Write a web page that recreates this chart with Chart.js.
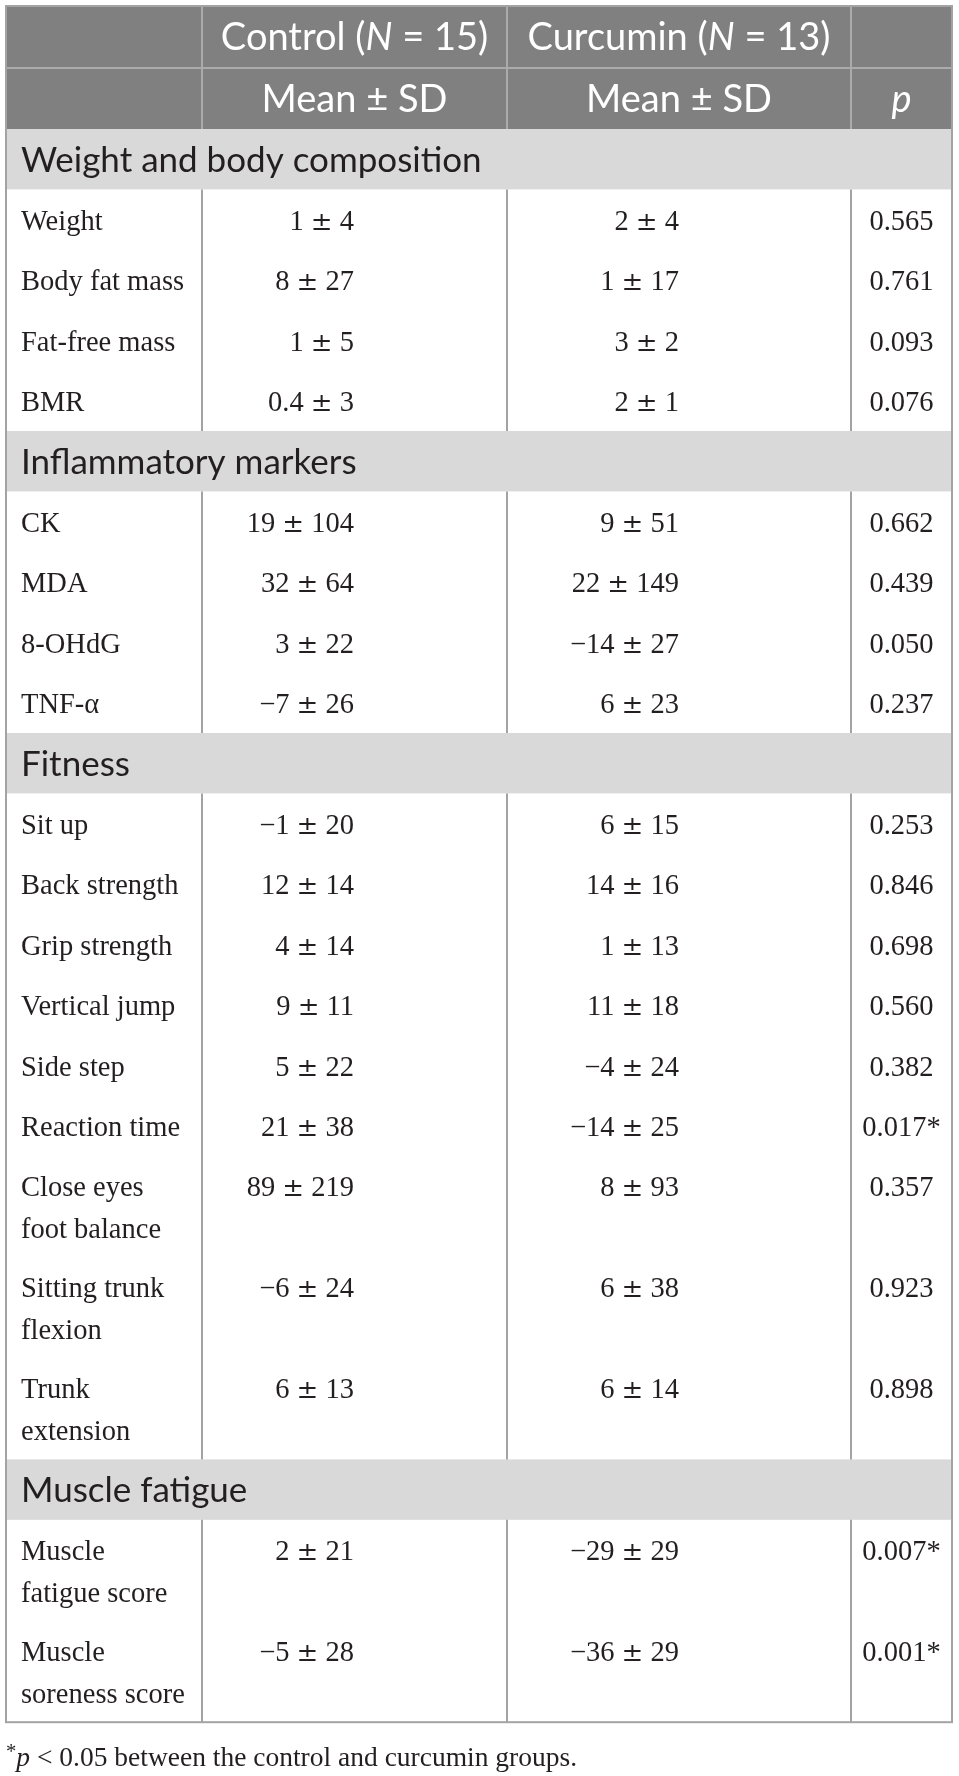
<!DOCTYPE html>
<html>
<head>
<meta charset="utf-8">
<script src="https://cdn.jsdelivr.net/npm/chart.js@4.4.1/dist/chart.umd.min.js"></script>
<style>
html,body{margin:0;padding:0;background:#fff;}
#wrap{width:959px;height:1776px;position:relative;}
</style>
</head>
<body>
<div id="wrap"><canvas id="c" width="959" height="1776"></canvas></div>
<script>
// ---- data ----
const groupHeaders = ['Control', 'Curcumin'];
const groupN = [15, 13];
const statHeader = 'Mean \u00B1 SD';
const pHeader = 'p';
const sections = ['Weight and body composition', 'Inflammatory markers', 'Fitness', 'Muscle fatigue'];
const sectionSizes = [4, 4, 9, 2];
const rowLabels = [
  ['Weight'], ['Body fat mass'], ['Fat-free mass'], ['BMR'],
  ['CK'], ['MDA'], ['8-OHdG'], ['TNF-\u03B1'],
  ['Sit up'], ['Back strength'], ['Grip strength'], ['Vertical jump'], ['Side step'], ['Reaction time'],
  ['Close eyes', 'foot balance'], ['Sitting trunk', 'flexion'], ['Trunk', 'extension'],
  ['Muscle', 'fatigue score'], ['Muscle', 'soreness score']
];
const controlMean = [1, 8, 1, 0.4, 19, 32, 3, -7, -1, 12, 4, 9, 5, 21, 89, -6, 6, 2, -5];
const controlSD   = [4, 27, 5, 3, 104, 64, 22, 26, 20, 14, 14, 11, 22, 38, 219, 24, 13, 21, 28];
const curcuminMean = [2, 1, 3, 2, 9, 22, -14, 6, 6, 14, 1, 11, -4, -14, 8, 6, 6, -29, -36];
const curcuminSD   = [4, 17, 2, 1, 51, 149, 27, 23, 15, 16, 13, 18, 24, 25, 93, 38, 14, 29, 29];
const pValues = ['0.565', '0.761', '0.093', '0.076', '0.662', '0.439', '0.050', '0.237', '0.253', '0.846',
                 '0.698', '0.560', '0.382', '0.017*', '0.357', '0.923', '0.898', '0.007*', '0.001*'];
const footnote = ' < 0.05 between the control and curcumin groups.';

// ---- layout (style, not data) ----
const L = {
  colEdges: [6, 202, 507, 851, 952],
  top: 6,
  headerH: [62, 61],
  singleH: 60.4,
  doubleH: 101.2,
  lineGap: 42,
  valueRight: [354, 679],
  labelX: 21,
  sans: '"Lato", "Open Sans", sans-serif',
  serif: '"Liberation Serif", "DejaVu Serif", serif',
  pmFont: '26px "DejaVu Serif", serif',
  headSize: 38,
  sectSize: 35,
  bodySize: 28.5,
  footSize: 27.5,
  headBg: '#808080',
  headLine: '#ababab',
  sectBg: '#d9d9d9',
  line: '#a3a3a3',
  text: '#231f20'
};

function fmt(v) {
  const s = String(Math.abs(v));
  return (v < 0 ? '\u2212' : '') + s;
}

function buildRows() {
  const rows = [];
  let y = L.top + L.headerH[0] + L.headerH[1];
  let k = 0;
  sections.forEach((s, si) => {
    rows.push({type: 'section', text: s, y0: y, y1: y + L.singleH});
    y += L.singleH;
    for (let j = 0; j < sectionSizes[si]; j++, k++) {
      const h = rowLabels[k].length > 1 ? L.doubleH : L.singleH;
      rows.push({type: 'body', idx: k, y0: y, y1: y + h});
      y += h;
    }
  });
  return {rows, bottom: y};
}

function drawRuns(ctx, runs, x, y, align) {
  let w = 0;
  runs.forEach(r => { ctx.font = r.font; r.w = ctx.measureText(r.t).width; w += r.w; });
  let cx = align === 'center' ? x - w / 2 : (align === 'right' ? x - w : x);
  ctx.textAlign = 'left';
  runs.forEach(r => { ctx.font = r.font; ctx.fillText(r.t, cx, y + (r.dy || 0)); cx += r.w; });
}

const tablePlugin = {
  id: 'tablePlugin',
  afterDraw(chart) {
    const ctx = chart.ctx;
    const sx = chart.scales.x, sy = chart.scales.y;
    const X = v => sx.getPixelForValue(v);
    const Y = v => sy.getPixelForValue(v);
    const ce = L.colEdges;
    const {rows, bottom} = buildRows();
    ctx.save();
    ctx.textBaseline = 'alphabetic';

    const hTop = L.top, hMid = L.top + L.headerH[0], hBot = hMid + L.headerH[1];
    ctx.fillStyle = L.headBg;
    ctx.fillRect(X(ce[0]), Y(hTop), X(ce[4]) - X(ce[0]), Y(hBot) - Y(hTop));

    rows.filter(r => r.type === 'section').forEach(r => {
      ctx.fillStyle = L.sectBg;
      ctx.fillRect(X(ce[0]), Y(r.y0), X(ce[4]) - X(ce[0]), Y(r.y1) - Y(r.y0));
    });

    ctx.strokeStyle = L.headLine;
    ctx.lineWidth = 2;
    ctx.beginPath();
    ctx.moveTo(X(ce[0]), Y(hMid)); ctx.lineTo(X(ce[4]), Y(hMid));
    for (let i = 1; i < 4; i++) { ctx.moveTo(X(ce[i]), Y(hTop)); ctx.lineTo(X(ce[i]), Y(hBot)); }
    ctx.stroke();

    ctx.strokeStyle = L.line;
    ctx.lineWidth = 2;
    ctx.beginPath();
    rows.filter(r => r.type === 'body').forEach(r => {
      for (let i = 1; i < 4; i++) { ctx.moveTo(X(ce[i]), Y(r.y0)); ctx.lineTo(X(ce[i]), Y(r.y1)); }
    });
    ctx.stroke();

    ctx.strokeStyle = L.line;
    ctx.lineWidth = 2;
    ctx.strokeRect(X(ce[0]), Y(hTop), X(ce[4]) - X(ce[0]), Y(bottom) - Y(hTop));

    // header text
    ctx.fillStyle = '#ffffff';
    const hf = L.headSize + 'px ' + L.sans;
    const hfi = 'italic ' + L.headSize + 'px ' + L.sans;
    const b1 = Y(hTop + L.headerH[0] / 2) + L.headSize * 0.355;
    const b2 = Y(hMid + L.headerH[1] / 2) + L.headSize * 0.355;
    groupHeaders.forEach((g, i) => {
      const cx = X((ce[i + 1] + ce[i + 2]) / 2);
      drawRuns(ctx, [{t: g + ' (', font: hf}, {t: 'N', font: hfi}, {t: ' = ' + groupN[i] + ')', font: hf}], cx, b1, 'center');
      drawRuns(ctx, [{t: statHeader, font: hf}], cx, b2, 'center');
    });
    drawRuns(ctx, [{t: pHeader, font: hfi}], X((ce[3] + ce[4]) / 2), b2, 'center');

    const bf = L.bodySize + 'px ' + L.serif;
    const valueRuns = (m, sd) => [
      {t: fmt(m) + ' ', font: bf}, {t: '\u00B1', font: L.pmFont}, {t: ' ' + sd, font: bf}
    ];
    rows.forEach(r => {
      if (r.type === 'section') {
        ctx.fillStyle = L.text;
        ctx.font = L.sectSize + 'px ' + L.sans;
        ctx.textAlign = 'left';
        ctx.fillText(r.text, X(L.labelX), Y((r.y0 + r.y1) / 2) + L.sectSize * 0.357);
        return;
      }
      const k = r.idx;
      const lines = rowLabels[k];
      const base = Y((r.y0 + r.y1) / 2) + L.bodySize * 0.33 + 1 - (lines.length - 1) * L.lineGap / 2;
      ctx.fillStyle = L.text;
      ctx.font = bf;
      ctx.textAlign = 'left';
      lines.forEach((t, li) => ctx.fillText(t, X(L.labelX), base + li * L.lineGap));
      drawRuns(ctx, valueRuns(controlMean[k], controlSD[k]), X(L.valueRight[0]), base, 'right');
      drawRuns(ctx, valueRuns(curcuminMean[k], curcuminSD[k]), X(L.valueRight[1]), base, 'right');
      ctx.font = bf;
      ctx.textAlign = 'center';
      ctx.fillText(pValues[k], X((ce[3] + ce[4]) / 2), base);
    });

    ctx.fillStyle = L.text;
    const ff = L.footSize + 'px ' + L.serif;
    drawRuns(ctx, [
      {t: '*', font: (L.footSize * 0.75) + 'px ' + L.serif, dy: -8},
      {t: 'p', font: 'italic ' + ff},
      {t: footnote, font: ff}
    ], X(6), Y(bottom + 44), 'left');

    ctx.restore();
  }
};

new Chart(document.getElementById('c'), {
  type: 'scatter',
  data: {datasets: [{data: [], pointRadius: 0}]},
  options: {
    responsive: false,
    animation: false,
    devicePixelRatio: 1,
    layout: {padding: 0},
    plugins: {legend: {display: false}, tooltip: {enabled: false}},
    scales: {
      x: {type: 'linear', min: 0, max: 959, display: false},
      y: {type: 'linear', min: 0, max: 1776, reverse: true, display: false}
    }
  },
  plugins: [tablePlugin]
});
</script>
</body>
</html>
